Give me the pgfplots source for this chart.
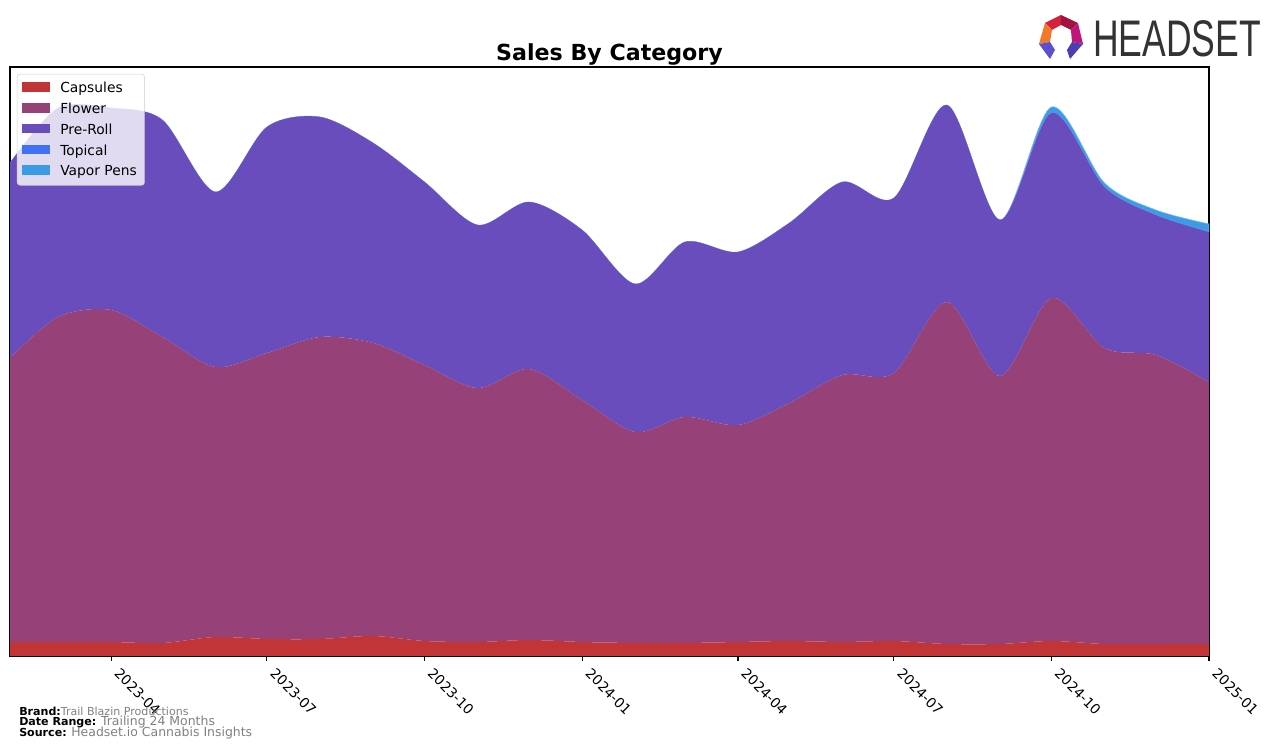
\documentclass[border=0pt]{standalone}
\usepackage{pgfplots}
\pgfplotsset{compat=1.18}
\usepackage{fontspec}
\setmainfont{DejaVu Sans}
\newfontfamily\logofont{Liberation Sans}

\definecolor{capcol}{RGB}{193,53,54}
\definecolor{flowcol}{RGB}{150,66,120}
\definecolor{prcol}{RGB}{106,77,188}
\definecolor{topcol}{RGB}{66,112,245}
\definecolor{vapcol}{RGB}{60,155,230}
\definecolor{txtgray}{RGB}{128,128,128}
\definecolor{logoa}{RGB}{212,33,61}
\definecolor{logob}{RGB}{163,18,63}
\definecolor{logoc}{RGB}{192,21,122}
\definecolor{logod}{RGB}{240,121,42}
\definecolor{logoe}{RGB}{91,79,208}
\definecolor{logof}{RGB}{74,63,176}

% x = days since 2023-01-01, y = height in pixels of the reference
\pgfplotstableread{
x    cap flower preroll topical vapor
31   14  284    195     0       0
59   14  325    209     0       0
90   14  332    202     0       0
120  13  306    217     0       0
151  19  270    175     0       0
181  17  286    226     0       0
212  17  302    220     0       0
243  20  293    200     0       0
273  15  276    183     0       0
304  14  254    163     0       0
334  16  271    167     0       0
365  14  242    170     0       0
396  13  211    148     0       0
425  13  226    175     0       0
456  14  217    173     0       0
486  15  238    180     0       0
517  14  267    193     0       0
547  15  268    175     0       0
578  12  342    197     0       0
609  12  268    156     0       0
639  15  343    185     0       6
670  12  296    161     0       4
700  12  289    140     0       5
731  12  262    150     0       8
}\salestable

\begin{document}
\begin{tikzpicture}
\path[use as bounding box] (0,0) rectangle (918.72bp,537.84bp);
\begin{axis}[
  at={(7.2bp,65.52bp)}, anchor=south west,
  scale only axis, width=863.28bp, height=424.08bp,
  xmin=31, xmax=731, ymin=0, ymax=589,
  stack plots=y,
  axis line style={line width=0.8bp},
  xtick={90,181,273,365,456,547,639,731},
  xticklabels={2023-04,2023-07,2023-10,2024-01,2024-04,2024-07,2024-10,2025-01},
  xticklabel style={xshift=7bp, yshift=-3bp, rotate=-45, anchor=north west, font=\fontsize{10}{12}\selectfont, inner sep=1bp},
  xtick pos=left,
  ytick=\empty,
  tick align=outside, major tick length=3.5bp,
  every tick/.style={black, line width=0.8bp},
  legend cell align=left,
  legend style={at={(rel axis cs:0,1)}, anchor=north west, xshift=5bp, yshift=-5bp,
    font=\fontsize{10}{12}\selectfont, draw={rgb,255:red,204;green,204;blue,204},
    rounded corners=2bp, fill=white, fill opacity=0.8, text opacity=1,
    row sep=2bp, inner sep=3.5bp,
    /tikz/every odd column/.append style={column sep=5.5bp}},
  legend image code/.code={\fill[#1,draw=none,fill opacity=1,sharp corners] (0bp,-2.5bp) rectangle (20bp,4.5bp);},
]
\addplot[fill=capcol, draw=none, smooth] table[x=x,y=cap]{\salestable} \closedcycle;
\addlegendentry{Capsules}
\addplot[fill=flowcol, draw=none, smooth] table[x=x,y=flower]{\salestable} \closedcycle;
\addlegendentry{Flower}
\addplot[fill=prcol, draw=none, smooth] table[x=x,y=preroll]{\salestable} \closedcycle;
\addlegendentry{Pre-Roll}
\addplot[fill=topcol, draw=none, smooth] table[x=x,y=topical]{\salestable} \closedcycle;
\addlegendentry{Topical}
\addplot[fill=vapcol, draw=vapcol!70!white, line width=0.4bp, smooth] table[x=x,y=vapor]{\salestable} \closedcycle;
\addlegendentry{Vapor Pens}
\end{axis}

\begin{scope}[shift={(0bp,537.84bp)}, x=0.72bp, y=-0.72bp]
  \node[anchor=base, font=\bfseries\fontsize{16}{19}\selectfont] at (609.5,61) {Sales By Category};
  % footer
  \node[anchor=base west, inner sep=0] at (19,716) {\fontsize{8}{9}\selectfont\textbf{Brand:}\color{txtgray}Trail Blazin Productions};
  \node[anchor=base west, inner sep=0] at (19,726) {\fontsize{8}{9}\selectfont\textbf{Date Range:} \color{txtgray}\fontsize{9}{10}\selectfont Trailing 24 Months};
  \node[anchor=base west, inner sep=0] at (19,737) {\fontsize{8}{9}\selectfont\textbf{Source:} \color{txtgray}\fontsize{9}{10}\selectfont Headset.io Cannabis Insights};
  % logo
  \fill[logoa] (1045,23) -- (1061,15) -- (1061,25) -- (1052,30) -- cycle;
  \fill[logob] (1061,15) -- (1078,23) -- (1071,30) -- (1061,25) -- cycle;
  \fill[logoc] (1078,23) -- (1083,44) -- (1072,42) -- (1071,30) -- cycle;
  \fill[logod] (1045,23) -- (1052,30) -- (1050,42) -- (1039,44) -- cycle;
  \fill[logoe] (1039,44) -- (1050,42) -- (1055,50) -- (1050,59) -- cycle;
  \fill[logof] (1083,44) -- (1072,42) -- (1067,50) -- (1070,59) -- cycle;
  \node[anchor=west, inner sep=0, text=black!80, xscale=0.69, font=\logofont\fontsize{37.2}{40}\selectfont] at (1093,38.5) {HEADSET};
\end{scope}
\end{tikzpicture}
\end{document}
